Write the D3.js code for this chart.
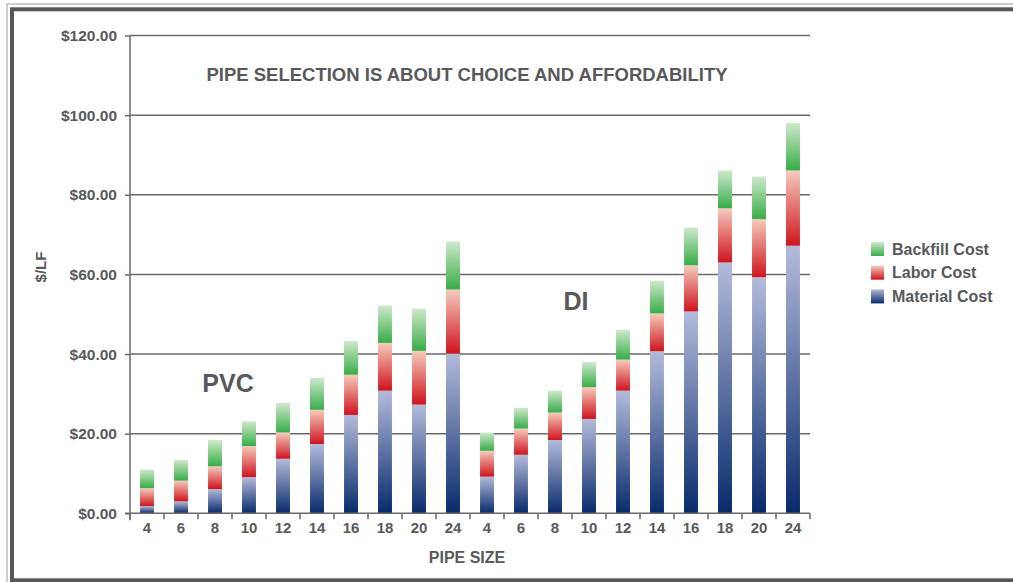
<!DOCTYPE html>
<html>
<head>
<meta charset="utf-8">
<script src="https://cdn.jsdelivr.net/npm/d3@7"></script>
<style>
  html, body { margin: 0; padding: 0; background: #fff; }
  svg { display: block; }
  text { font-family: "Liberation Sans", Arial, Helvetica, sans-serif; font-weight: bold; fill: #58595b; }
</style>
</head>
<body>
<svg id="chart" width="1013" height="582"></svg>
<script>
// ---- data ----
const groups = ["PVC", "DI"];
const sizes = ["4", "6", "8", "10", "12", "14", "16", "18", "20", "24"];
const materialCost = [1.8, 3.0, 6.1, 9.1, 13.7, 17.4, 24.7, 30.8, 27.3, 40.1,
                      9.2, 14.7, 18.4, 23.7, 30.8, 40.7, 50.7, 63.0, 59.3, 67.2];
const laborCost    = [4.5, 5.2, 5.7, 7.8, 6.6, 8.6, 10.1, 12.0, 13.5, 16.1,
                      6.5, 6.6, 6.9, 8.0, 7.8, 9.5, 11.6, 13.6, 14.6, 18.9];
const backfillCost = [4.7, 5.2, 6.6, 6.2, 7.4, 8.0, 8.5, 9.4, 10.6, 12.1,
                      4.6, 5.2, 5.5, 6.3, 7.5, 8.2, 9.5, 9.5, 10.7, 11.9];
const seriesNames = ["Material Cost", "Labor Cost", "Backfill Cost"];
const yTicks = [0, 20, 40, 60, 80, 100, 120];
const title = "PIPE SELECTION IS ABOUT CHOICE AND AFFORDABILITY";

// ---- build table ----
const categories = [];
groups.forEach(g => sizes.forEach(s => categories.push(g + "-" + s)));
const rows = categories.map((c, i) => ({
  key: c, size: c.split("-")[1],
  "Material Cost": materialCost[i], "Labor Cost": laborCost[i], "Backfill Cost": backfillCost[i]
}));
const stacked = d3.stack().keys(seriesNames)(rows);

const svg = d3.select("#chart");
const textColor = "#58595b";

// ---- frame ----
svg.append("rect").attr("x", 7).attr("y", 4).attr("width", 1100).attr("height", 600)
  .attr("fill", "none").attr("stroke", "#9a9a9a").attr("stroke-width", 1);
svg.append("rect").attr("x", 12).attr("y", 9.3).attr("width", 1100).attr("height", 571)
  .attr("fill", "#fff").attr("stroke", "#575757").attr("stroke-width", 4);

// ---- gradients ----
const defs = svg.append("defs");
const grads = {
  "Material Cost": ["#b3bbdb", "#072a6b"],
  "Labor Cost": ["#f6cbbd", "#cf141d"],
  "Backfill Cost": ["#cfe9cb", "#37ad47"]
};
seriesNames.forEach((n, i) => {
  const g = defs.append("linearGradient").attr("id", "g" + i)
    .attr("x1", 0).attr("y1", 0).attr("x2", 0).attr("y2", 1);
  g.append("stop").attr("offset", "0%").attr("stop-color", grads[n][0]);
  g.append("stop").attr("offset", "100%").attr("stop-color", grads[n][1]);
});

// ---- scales ----
const x = d3.scaleBand().domain(categories).range([130, 810]).paddingInner(0.59).paddingOuter(0.295);
const y = d3.scaleLinear().domain([0, 120]).range([513.3, 35.5]);

// gridlines
svg.append("g").selectAll("line").data(yTicks.filter(d => d > 0)).join("line")
  .attr("x1", 130).attr("x2", 810).attr("y1", d => y(d)).attr("y2", d => y(d))
  .attr("stroke", "#6a6a6a").attr("stroke-width", 1.5);

// y axis
const yAxis = d3.axisLeft(y).tickValues(yTicks).tickSize(5).tickPadding(8)
  .tickFormat(d => "$" + d3.format(".2f")(d));
const yg = svg.append("g").attr("transform", "translate(130,0)").call(yAxis);
yg.select(".domain").remove();
yg.selectAll(".tick line").attr("stroke", "#6a6a6a").attr("stroke-width", 1.5);
yg.selectAll(".tick text").style("font-size", "15.5px").style("font-family", "Liberation Sans, Arial, sans-serif")
  .style("font-weight", "bold").attr("fill", textColor);
svg.append("line").attr("x1", 130).attr("x2", 130).attr("y1", y(120)).attr("y2", y(0) + 7)
  .attr("stroke", "#6a6a6a").attr("stroke-width", 1.5);

// bars
const layer = svg.append("g").selectAll("g").data(stacked).join("g")
  .attr("fill", (d, i) => "url(#g" + i + ")");
layer.selectAll("rect").data(d => d).join("rect")
  .attr("x", d => x(d.data.key))
  .attr("width", x.bandwidth())
  .attr("y", d => y(d[1]))
  .attr("height", d => y(d[0]) - y(d[1]));

// x axis
const xAxis = d3.axisBottom(x).tickSize(0).tickPadding(9).tickFormat(k => k.split("-")[1]);
const xg = svg.append("g").attr("transform", `translate(0,${y(0)})`).call(xAxis);
xg.select(".domain").remove();
xg.selectAll(".tick text").style("font-size", "15px").style("font-family", "Liberation Sans, Arial, sans-serif")
  .style("font-weight", "bold").attr("fill", textColor);
svg.append("line").attr("x1", 125).attr("x2", 810).attr("y1", y(0)).attr("y2", y(0))
  .attr("stroke", "#6a6a6a").attr("stroke-width", 1.5);
const boundaries = categories.map(c => x(c) - x.step() * x.paddingInner() / 2)
  .concat([x(categories[categories.length - 1]) + x.bandwidth() + x.step() * x.paddingInner() / 2]);
svg.append("g").selectAll("line").data(boundaries).join("line")
  .attr("x1", d => d).attr("x2", d => d).attr("y1", y(0)).attr("y2", y(0) + 6)
  .attr("stroke", "#6a6a6a").attr("stroke-width", 1.5);

// titles
svg.append("text").attr("x", 467).attr("y", 81).attr("text-anchor", "middle")
  .style("font-size", "18.5px").text(title);
svg.append("text").attr("x", 467).attr("y", 563).attr("text-anchor", "middle")
  .style("font-size", "16px").text("PIPE SIZE");
svg.append("text").attr("transform", "translate(46,267) rotate(-90)").attr("text-anchor", "middle")
  .style("font-size", "15px").text("$/LF");

// group labels
const groupLabelPos = [{ t: groups[0], x: 228, y: 392 }, { t: groups[1], x: 576, y: 310 }];
svg.append("g").selectAll("text").data(groupLabelPos).join("text")
  .attr("x", d => d.x).attr("y", d => d.y).attr("text-anchor", "middle")
  .style("font-size", "25px").text(d => d.t);

// legend
const legendOrder = ["Backfill Cost", "Labor Cost", "Material Cost"];
const lg = svg.append("g").attr("transform", "translate(871,242)");
const li = lg.selectAll("g").data(legendOrder).join("g")
  .attr("transform", (d, i) => `translate(0,${i * 23.7})`);
li.append("rect").attr("width", 13).attr("height", 14)
  .attr("fill", d => "url(#g" + seriesNames.indexOf(d) + ")");
li.append("text").attr("x", 21).attr("y", 12.5).style("font-size", "16px").text(d => d);
</script>
</body>
</html>
